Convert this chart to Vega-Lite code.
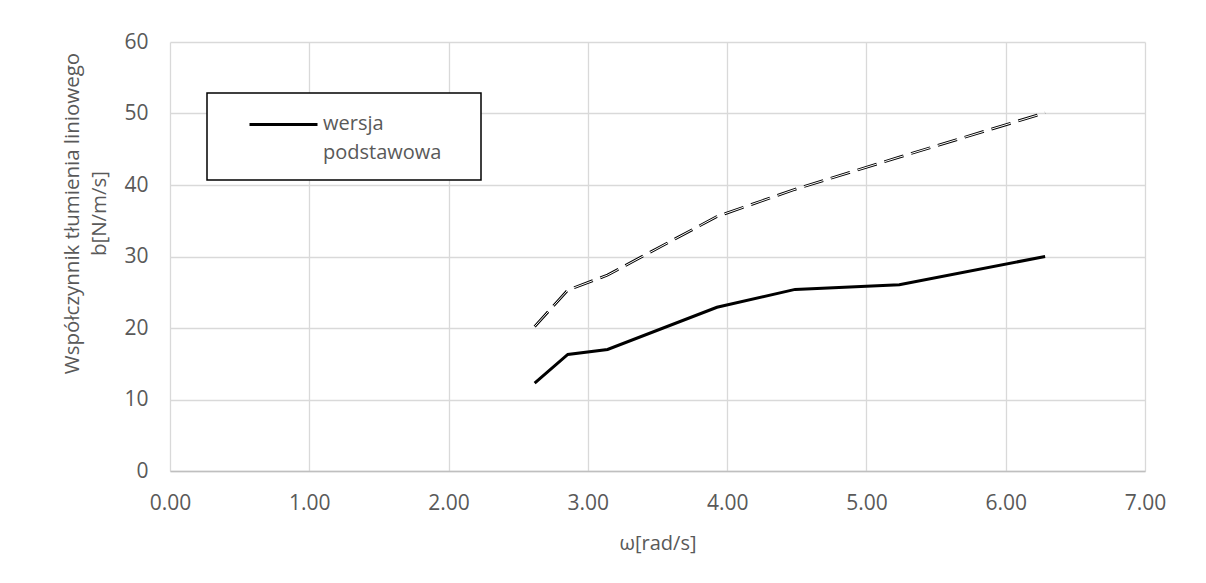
{
  "$schema": "https://vega.github.io/schema/vega-lite/v6.json",
  "width": 975,
  "height": 429,
  "autosize": {"type": "none"},
  "padding": {"left": 170, "top": 42, "right": 61, "bottom": 112},
  "background": "white",
  "config": {
    "view": {"stroke": null},
    "font": "Open Sans",
    "legend": {"strokeColor": "black", "strokeWidth": 1.5, "fillColor": "white"},
    "axis": {
      "labelFont": "Open Sans",
      "titleFont": "Open Sans",
      "labelColor": "#595959",
      "titleColor": "#595959",
      "titleFontWeight": "normal",
      "gridColor": "#D9D9D9",
      "gridWidth": 1.3,
      "ticks": false,
      "tickSize": 0
    }
  },
  "data": {
    "values": [
      {"omega": 2.618, "b": 12.3, "series": "wersja podstawowa"},
      {"omega": 2.856, "b": 16.3, "series": "wersja podstawowa"},
      {"omega": 3.1416, "b": 17.0, "series": "wersja podstawowa"},
      {"omega": 3.927, "b": 22.9, "series": "wersja podstawowa"},
      {"omega": 4.488, "b": 25.4, "series": "wersja podstawowa"},
      {"omega": 5.236, "b": 26.05, "series": "wersja podstawowa"},
      {"omega": 6.283, "b": 30.0, "series": "wersja podstawowa"},
      {"omega": 2.618, "b": 20.2, "series": "druga"},
      {"omega": 2.856, "b": 25.3, "series": "druga"},
      {"omega": 3.1416, "b": 27.4, "series": "druga"},
      {"omega": 3.927, "b": 35.6, "series": "druga"},
      {"omega": 4.488, "b": 39.4, "series": "druga"},
      {"omega": 5.236, "b": 43.9, "series": "druga"},
      {"omega": 6.283, "b": 50.1, "series": "druga"}
    ]
  },
  "encoding": {
    "x": {
      "field": "omega",
      "type": "quantitative",
      "scale": {"domain": [0, 7], "nice": false, "zero": true},
      "axis": {
        "title": "ω[rad/s]",
        "format": ".2f",
        "values": [0, 1, 2, 3, 4, 5, 6, 7],
        "labelFontSize": 21,
        "labelBaseline": "alphabetic",
        "labelPadding": 38,
        "labelFlush": false,
        "labelOverlap": false,
        "titleFontSize": 20,
        "titleBaseline": "alphabetic",
        "titleY": 78,
        "domainColor": "#BFBFBF",
        "domainWidth": 1.3
      }
    },
    "y": {
      "field": "b",
      "type": "quantitative",
      "scale": {"domain": [0, 60], "nice": false},
      "axis": {
        "title": ["Współczynnik tłumienia liniowego", "b[N/m/s]"],
        "format": "d",
        "values": [0, 10, 20, 30, 40, 50, 60],
        "labelFontSize": 21,
        "labelPadding": 22,
        "labelFlush": false,
        "labelOverlap": false,
        "domain": false,
        "titleFontSize": 20.5,
        "titleAngle": -90,
        "titleAlign": "center",
        "titleBaseline": "alphabetic",
        "titleLineHeight": 27,
        "titleX": -92,
        "titleY": 171
      }
    }
  },
  "layer": [
    {
      "transform": [{"filter": "datum.series === 'druga'"}],
      "mark": {"type": "line", "color": "black", "strokeWidth": 2.8, "strokeDash": [20, 8]}
    },
    {
      "transform": [{"filter": "datum.series === 'druga'"}],
      "mark": {"type": "line", "color": "white", "strokeWidth": 1, "strokeDash": [20, 8]}
    },
    {
      "transform": [{"filter": "datum.series === 'wersja podstawowa'"}],
      "mark": {"type": "line", "strokeWidth": 3},
      "encoding": {
        "stroke": {
          "field": "series",
          "type": "nominal",
          "scale": {"domain": ["wersja podstawowa"], "range": ["black"]},
          "legend": {
            "title": ".",
            "titleOrient": "right",
            "titleOpacity": 0,
            "titleFontSize": 8,
            "titlePadding": 20,
            "orient": "none",
            "legendX": 37,
            "legendY": 51,
            "padding": 17,
            "strokeColor": "black",
            "fillColor": "white",
            "symbolType": "M-1,-0.62H1",
            "symbolSize": 4624,
            "symbolStrokeWidth": 3,
            "symbolStrokeColor": "black",
            "symbolOffset": 24,
            "labelOffset": 4,
            "labelFont": "Open Sans",
            "labelFontSize": 20,
            "labelColor": "#595959",
            "labelBaseline": "line-bottom",
            "labelLimit": 400,
            "labelExpr": "['wersja', 'podstawowa']",
            "encode": {"labels": {"update": {"lineHeight": {"value": 29}, "dy": {"value": -7}}}}
          }
        }
      }
    }
  ]
}
